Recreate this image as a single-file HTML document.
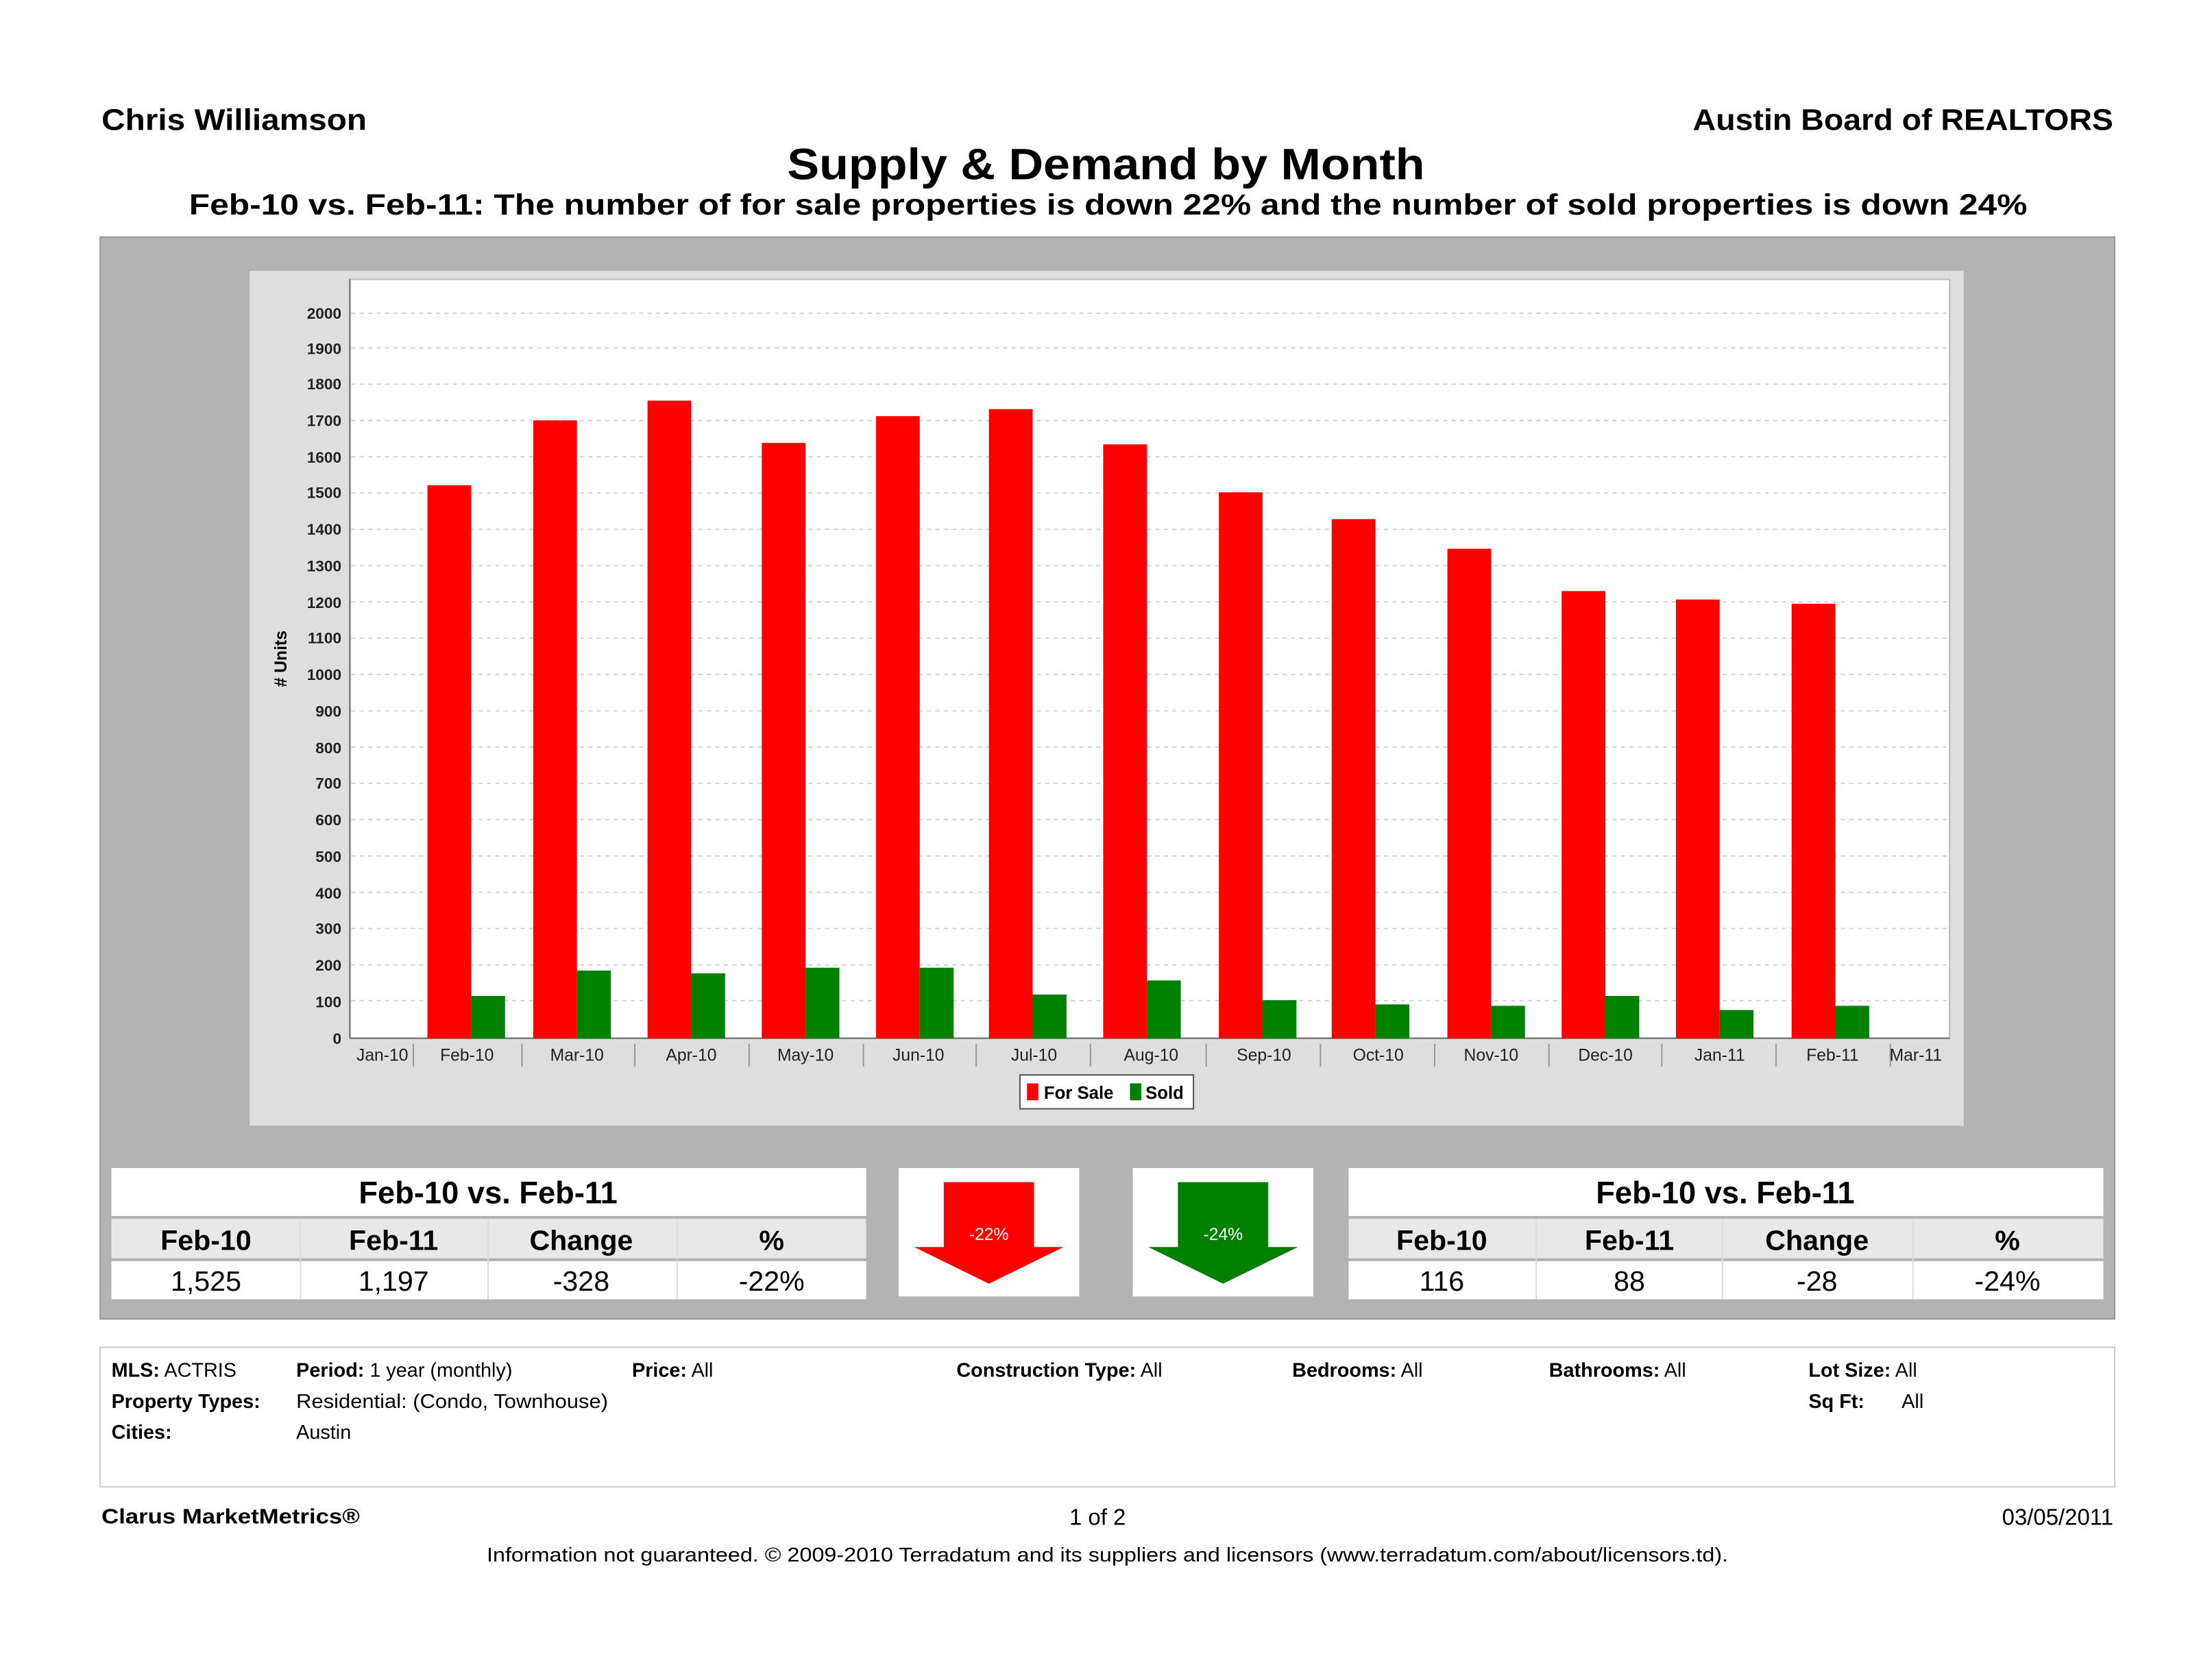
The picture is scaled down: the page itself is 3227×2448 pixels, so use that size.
<!DOCTYPE html>
<html><head><meta charset="utf-8"><style>
html,body{margin:0;padding:0;background:#fff;}
svg{display:block;font-family:"Liberation Sans",sans-serif;}
</style></head><body>
<svg width="3227" height="2448" viewBox="0 0 1568 1189.5" preserveAspectRatio="none" xmlns="http://www.w3.org/2000/svg">
<rect width="1568" height="1190" fill="#fff"/>
<text x="72" y="92" font-size="21" font-weight="bold" textLength="188" lengthAdjust="spacingAndGlyphs">Chris Williamson</text>
<text x="1200" y="92" font-size="21" font-weight="bold" textLength="298" lengthAdjust="spacingAndGlyphs">Austin Board of REALTORS</text>
<text x="558" y="127" font-size="31" font-weight="bold" textLength="452" lengthAdjust="spacingAndGlyphs">Supply &amp; Demand by Month</text>
<text x="134" y="152" font-size="20.5" font-weight="bold" textLength="1303" lengthAdjust="spacingAndGlyphs">Feb-10 vs. Feb-11:  The number of for sale properties is down 22% and the number of sold properties is down 24%</text>
<rect x="71" y="168" width="1428" height="767" fill="#b3b3b3" stroke="#999" stroke-width="1"/>
<rect x="177" y="192" width="1215" height="606" fill="#dedede"/>
<rect x="248" y="198" width="1134" height="538" fill="#fff" stroke="#bbb" stroke-width="1"/>
<line x1="248" y1="198" x2="248" y2="736" stroke="#777" stroke-width="1.2"/>
<line x1="248" y1="736" x2="1382" y2="736" stroke="#777" stroke-width="1.2"/>
<g stroke="#ccc" stroke-dasharray="3,3" stroke-width="0.8">
<line x1="249" x2="1382" y1="709.3" y2="709.3"/><line x1="249" x2="1382" y1="684" y2="684"/><line x1="249" x2="1382" y1="658.2" y2="658.2"/><line x1="249" x2="1382" y1="632.5" y2="632.5"/><line x1="249" x2="1382" y1="606.8" y2="606.8"/><line x1="249" x2="1382" y1="581" y2="581"/><line x1="249" x2="1382" y1="555.3" y2="555.3"/><line x1="249" x2="1382" y1="529.6" y2="529.6"/><line x1="249" x2="1382" y1="503.9" y2="503.9"/><line x1="249" x2="1382" y1="478.1" y2="478.1"/><line x1="249" x2="1382" y1="452.4" y2="452.4"/><line x1="249" x2="1382" y1="426.7" y2="426.7"/><line x1="249" x2="1382" y1="401" y2="401"/><line x1="249" x2="1382" y1="375.2" y2="375.2"/><line x1="249" x2="1382" y1="349.5" y2="349.5"/><line x1="249" x2="1382" y1="323.8" y2="323.8"/><line x1="249" x2="1382" y1="298.1" y2="298.1"/><line x1="249" x2="1382" y1="272.3" y2="272.3"/><line x1="249" x2="1382" y1="246.6" y2="246.6"/><line x1="249" x2="1382" y1="222" y2="222"/>
</g>
<g font-size="11" font-weight="bold" text-anchor="end" fill="#222">
<text x="242" y="740">0</text><text x="242" y="714">100</text><text x="242" y="688">200</text><text x="242" y="662">300</text><text x="242" y="637">400</text><text x="242" y="611">500</text><text x="242" y="585">600</text><text x="242" y="559">700</text><text x="242" y="534">800</text><text x="242" y="508">900</text><text x="242" y="482">1000</text><text x="242" y="456">1100</text><text x="242" y="431">1200</text><text x="242" y="405">1300</text><text x="242" y="379">1400</text><text x="242" y="353">1500</text><text x="242" y="328">1600</text><text x="242" y="302">1700</text><text x="242" y="276">1800</text><text x="242" y="251">1900</text><text x="242" y="226">2000</text>
</g>
<text transform="translate(203,467) rotate(-90)" font-size="12" font-weight="bold" text-anchor="middle"># Units</text>
<g fill="#ff0000">
<rect x="303" y="344" width="31" height="392"/><rect x="378" y="298" width="31" height="438"/><rect x="459" y="284" width="31" height="452"/><rect x="540" y="314" width="31" height="422"/><rect x="621" y="295" width="31" height="441"/><rect x="701" y="290" width="31" height="446"/><rect x="782" y="315" width="31" height="421"/><rect x="864" y="349" width="31" height="387"/><rect x="944" y="368" width="31" height="368"/><rect x="1026" y="389" width="31" height="347"/><rect x="1107" y="419" width="31" height="317"/><rect x="1188" y="425" width="31" height="311"/><rect x="1270" y="428" width="31" height="308"/>
</g>
<g fill="#008000">
<rect x="334" y="706" width="24" height="30"/><rect x="409" y="688" width="24" height="48"/><rect x="490" y="690" width="24" height="46"/><rect x="571" y="686" width="24" height="50"/><rect x="652" y="686" width="24" height="50"/><rect x="732" y="705" width="24" height="31"/><rect x="813" y="695" width="24" height="41"/><rect x="895" y="709" width="24" height="27"/><rect x="975" y="712" width="24" height="24"/><rect x="1057" y="713" width="24" height="23"/><rect x="1138" y="706" width="24" height="30"/><rect x="1219" y="716" width="24" height="20"/><rect x="1301" y="713" width="24" height="23"/>
</g>
<g stroke="#999" stroke-width="1">
<line x1="293" x2="293" y1="740" y2="756"/><line x1="370" x2="370" y1="740" y2="756"/><line x1="450" x2="450" y1="740" y2="756"/><line x1="531" x2="531" y1="740" y2="756"/><line x1="612" x2="612" y1="740" y2="756"/><line x1="692" x2="692" y1="740" y2="756"/><line x1="773" x2="773" y1="740" y2="756"/><line x1="855" x2="855" y1="740" y2="756"/><line x1="936" x2="936" y1="740" y2="756"/><line x1="1017" x2="1017" y1="740" y2="756"/><line x1="1098" x2="1098" y1="740" y2="756"/><line x1="1178" x2="1178" y1="740" y2="756"/><line x1="1259" x2="1259" y1="740" y2="756"/><line x1="1340" x2="1340" y1="740" y2="756"/>
</g>
<g font-size="12" text-anchor="middle" fill="#222">
<text x="271" y="752">Jan-10</text><text x="331" y="752">Feb-10</text><text x="409" y="752">Mar-10</text><text x="490" y="752">Apr-10</text><text x="571" y="752">May-10</text><text x="651" y="752">Jun-10</text><text x="733" y="752">Jul-10</text><text x="816" y="752">Aug-10</text><text x="896" y="752">Sep-10</text><text x="977" y="752">Oct-10</text><text x="1057" y="752">Nov-10</text><text x="1138" y="752">Dec-10</text><text x="1219" y="752">Jan-11</text><text x="1299" y="752">Feb-11</text><text x="1358" y="752">Mar-11</text>
</g>
<rect x="723" y="762" width="123" height="24" fill="#fff" stroke="#555"/>
<rect x="728" y="768" width="8" height="12" fill="#ff0000"/><text x="740" y="779" font-size="12.5" font-weight="bold">For Sale</text>
<rect x="801" y="768" width="8" height="12" fill="#008000"/><text x="812" y="779" font-size="12.5" font-weight="bold">Sold</text>

<rect x="79" y="828" width="535" height="34" fill="#fff"/>
<rect x="79" y="864" width="535" height="28" fill="#e8e8e8"/>
<rect x="79" y="894" width="535" height="27" fill="#fff"/>
<g stroke="#ddd"><line x1="213" x2="213" y1="864" y2="921"/><line x1="346" x2="346" y1="864" y2="921"/><line x1="480" x2="480" y1="864" y2="921"/></g>
<text x="346" y="853" font-size="22" font-weight="bold" text-anchor="middle">Feb-10 vs. Feb-11</text>
<g font-size="20" font-weight="bold" text-anchor="middle"><text x="146" y="886">Feb-10</text><text x="279" y="886">Feb-11</text><text x="412" y="886">Change</text><text x="547" y="886">%</text></g>
<g font-size="20" text-anchor="middle"><text x="146" y="915">1,525</text><text x="279" y="915">1,197</text><text x="412" y="915">-328</text><text x="547" y="915">-22%</text></g>
<rect x="637" y="828" width="128" height="91" fill="#fff"/>
<polygon points="669,838 733,838 733,884 754,884 701,910 648,884 669,884" fill="#ff0000"/>
<text x="701" y="879" font-size="12" fill="#fff" text-anchor="middle">-22%</text>
<rect x="803" y="828" width="128" height="91" fill="#fff"/>
<polygon points="835,838 899,838 899,884 920,884 867,910 814,884 835,884" fill="#008000"/>
<text x="867" y="879" font-size="12" fill="#fff" text-anchor="middle">-24%</text>
<rect x="956" y="828" width="535" height="34" fill="#fff"/>
<rect x="956" y="864" width="535" height="28" fill="#e8e8e8"/>
<rect x="956" y="894" width="535" height="27" fill="#fff"/>
<g stroke="#ddd"><line x1="1089" x2="1089" y1="864" y2="921"/><line x1="1221" x2="1221" y1="864" y2="921"/><line x1="1356" x2="1356" y1="864" y2="921"/></g>
<text x="1223" y="853" font-size="22" font-weight="bold" text-anchor="middle">Feb-10 vs. Feb-11</text>
<g font-size="20" font-weight="bold" text-anchor="middle"><text x="1022" y="886">Feb-10</text><text x="1155" y="886">Feb-11</text><text x="1288" y="886">Change</text><text x="1423" y="886">%</text></g>
<g font-size="20" text-anchor="middle"><text x="1022" y="915">116</text><text x="1155" y="915">88</text><text x="1288" y="915">-28</text><text x="1423" y="915">-24%</text></g>
<rect x="71" y="955" width="1428" height="99" fill="#fff" stroke="#ccc"/>
<g font-size="14">
<text x="79" y="976"><tspan font-weight="bold">MLS:</tspan>  ACTRIS</text>
<text x="210" y="976"><tspan font-weight="bold">Period:</tspan>  1 year (monthly)</text>
<text x="448" y="976"><tspan font-weight="bold">Price:</tspan>   All</text>
<text x="678" y="976"><tspan font-weight="bold">Construction Type:</tspan> All</text>
<text x="916" y="976"><tspan font-weight="bold">Bedrooms:</tspan>  All</text>
<text x="1098" y="976"><tspan font-weight="bold">Bathrooms:</tspan> All</text>
<text x="1282" y="976"><tspan font-weight="bold">Lot Size:</tspan>  All</text>
<text x="79" y="998" font-weight="bold">Property Types:</text>
<text x="210" y="998" textLength="221" lengthAdjust="spacingAndGlyphs">Residential: (Condo, Townhouse)</text>
<text x="1282" y="998" font-weight="bold">Sq Ft:</text><text x="1348" y="998">All</text>
<text x="79" y="1020" font-weight="bold">Cities:</text>
<text x="210" y="1020">Austin</text>
</g>
<text x="72" y="1080" font-size="15" font-weight="bold" textLength="183" lengthAdjust="spacingAndGlyphs">Clarus MarketMetrics®</text>
<text x="778" y="1081" font-size="16" text-anchor="middle">1 of 2</text>
<text x="1498" y="1081" font-size="16" text-anchor="end">03/05/2011</text>
<text x="345" y="1107" font-size="14" textLength="880" lengthAdjust="spacingAndGlyphs">Information not guaranteed.  © 2009-2010 Terradatum and its suppliers and licensors (www.terradatum.com/about/licensors.td).</text>
</svg>
</body></html>
